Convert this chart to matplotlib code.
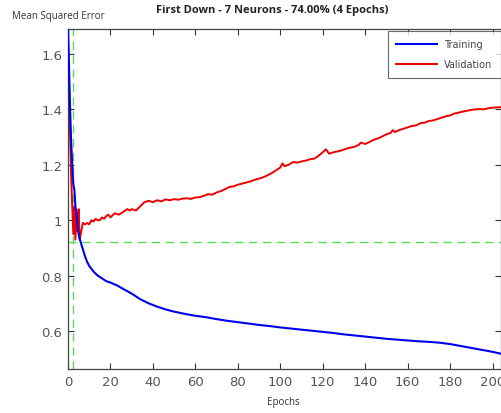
import matplotlib
matplotlib.use("Agg")
import matplotlib.pyplot as plt
import numpy as np

TITLE = "First Down - 7 Neurons - 74.00% (4 Epochs)"

train_epochs = [0, 0.5, 1, 1.5, 2, 2.5, 3, 3.5, 4, 4.5, 5, 6, 7, 8, 9, 10, 12, 14, 16, 18,
                20, 23, 26, 30, 34, 38, 42, 46, 50, 55, 60, 65, 70, 75, 80, 85, 90, 95,
                100, 105, 110, 115, 120, 125, 130, 135, 140, 145, 150, 155, 160, 165,
                170, 175, 180, 185, 190, 195, 200, 204]
train_mse = [1.70, 1.55, 1.40, 1.28, 1.20, 1.13, 1.11, 1.05, 1.02, 0.98, 0.95, 0.92, 0.895,
             0.87, 0.85, 0.835, 0.815, 0.80, 0.79, 0.78, 0.775, 0.765, 0.752, 0.735, 0.715,
             0.70, 0.688, 0.678, 0.67, 0.662, 0.655, 0.65, 0.643, 0.637, 0.632, 0.627,
             0.622, 0.618, 0.613, 0.609, 0.605, 0.601, 0.597, 0.593, 0.588, 0.584, 0.58,
             0.576, 0.572, 0.569, 0.566, 0.563, 0.561, 0.558, 0.553, 0.546, 0.539, 0.532,
             0.525, 0.518]

val_epochs = [0, 0.5, 1, 1.5, 2, 2.5, 3, 3.5, 4, 4.5, 5, 5.5, 6, 7, 8, 9, 10, 11, 12, 13,
              14, 15, 16, 17, 18, 19, 20, 22, 24, 26, 28, 29, 30, 32, 34, 36, 38, 40, 42,
              44, 46, 48, 50, 52, 54, 56, 58, 60, 62, 64, 66, 68, 70, 72, 74, 76, 78, 80,
              82, 84, 86, 88, 90, 92, 94, 96, 98, 100, 101, 102, 104, 106, 108, 110, 112,
              114, 116, 118, 120, 121.5, 123, 125, 128, 130, 132, 135, 137, 138, 140, 142,
              144, 146, 148, 150, 152, 153, 154, 156, 158, 160, 162, 164, 166, 168, 170,
              172, 174, 176, 178, 180, 182, 184, 186, 188, 190, 192, 194, 196, 198, 200,
              202, 204]
val_mse = [1.66, 1.45, 1.30, 1.15, 1.05, 0.95, 1.05, 0.93, 1.03, 0.96, 1.04, 0.93, 0.95,
           0.99, 0.985, 0.99, 0.985, 1.0, 0.995, 1.005, 1.0, 1.0, 1.01, 1.005, 1.015, 1.02,
           1.01, 1.025, 1.02, 1.03, 1.04, 1.035, 1.04, 1.035, 1.05, 1.065, 1.07, 1.065,
           1.072, 1.068, 1.075, 1.072, 1.076, 1.074, 1.078, 1.079, 1.077, 1.082, 1.083,
           1.088, 1.094, 1.092, 1.10, 1.105, 1.112, 1.12, 1.122, 1.128, 1.132, 1.136, 1.14,
           1.146, 1.15, 1.155, 1.162, 1.17, 1.18, 1.19, 1.205, 1.195, 1.2, 1.21, 1.208,
           1.212, 1.215, 1.22, 1.222, 1.232, 1.245, 1.256, 1.24, 1.245, 1.25, 1.255, 1.26,
           1.265, 1.272, 1.28, 1.275, 1.282, 1.29, 1.295, 1.302, 1.31, 1.315, 1.325, 1.318,
           1.325, 1.33, 1.335, 1.34, 1.342, 1.35, 1.352, 1.358, 1.36, 1.365, 1.37, 1.375,
           1.378, 1.385, 1.388, 1.392, 1.395, 1.398, 1.40, 1.401, 1.40, 1.404, 1.406,
           1.407, 1.408]

best_epoch = 2.4
best_mse = 0.922

x_ticks = [0, 20, 40, 60, 80, 100, 120, 140, 160, 180, 200]
y_ticks = [0.6, 0.8, 1.0, 1.2, 1.4, 1.6]
y_ticklabels = ["0.6", "0.8", "1", "1.2", "1.4", "1.6"]

fig = plt.figure(figsize=(5.01, 4.14), dpi=100)
ax = fig.add_axes([68 / 501, 44 / 414, 433 / 501, 340 / 414])

green = "#55dd55"
ax.axhline(best_mse, color=green, ls=(0, (6, 4)), lw=1.0, zorder=1)
ax.axvline(best_epoch, color=green, ls=(0, (6, 4)), lw=1.0, zorder=1)
ax.plot(train_epochs, train_mse, color="#0000ee", lw=1.5, label="Training", zorder=3)
ax.plot(val_epochs, val_mse, color="#ee0000", lw=1.4, label="Validation", zorder=2)

ax.set_xlim(0, 204)
ax.set_ylim(0.463, 1.69)
ax.set_xticks(x_ticks)
ax.set_yticks(y_ticks)
ax.set_yticklabels(y_ticklabels)
ax.tick_params(direction="in", top=True, right=True, length=4, width=0.8,
               labelsize=9.5, colors="#333333", labelcolor="#555555", pad=4)
for sp in ax.spines.values():
    sp.set_color("#444444")
    sp.set_linewidth(0.9)

leg = ax.legend(loc="upper right", bbox_to_anchor=(1.0, 0.995), fontsize=7,
                frameon=True, fancybox=False, handlelength=4.2, borderpad=0.9,
                labelspacing=1.0, handletextpad=0.7, borderaxespad=0.0)
leg.get_frame().set_edgecolor("#444444")
leg.get_frame().set_linewidth(0.8)
for t in leg.get_texts():
    t.set_color("#444444")

fig.text(272 / 501, 1 - 10 / 414, TITLE, ha="center", va="center",
         fontsize=8, fontweight="bold", color="#222222", family="Open Sans")
fig.text(12 / 501, 1 - 17 / 414, "Mean Squared Error", ha="left", va="center",
         fontsize=7, color="#333333", family="Open Sans")
fig.text(283 / 501, 1 - 403 / 414, "Epochs", ha="center", va="center",
         fontsize=7, color="#333333", family="Open Sans")

fig.savefig("out.png", dpi=100)
